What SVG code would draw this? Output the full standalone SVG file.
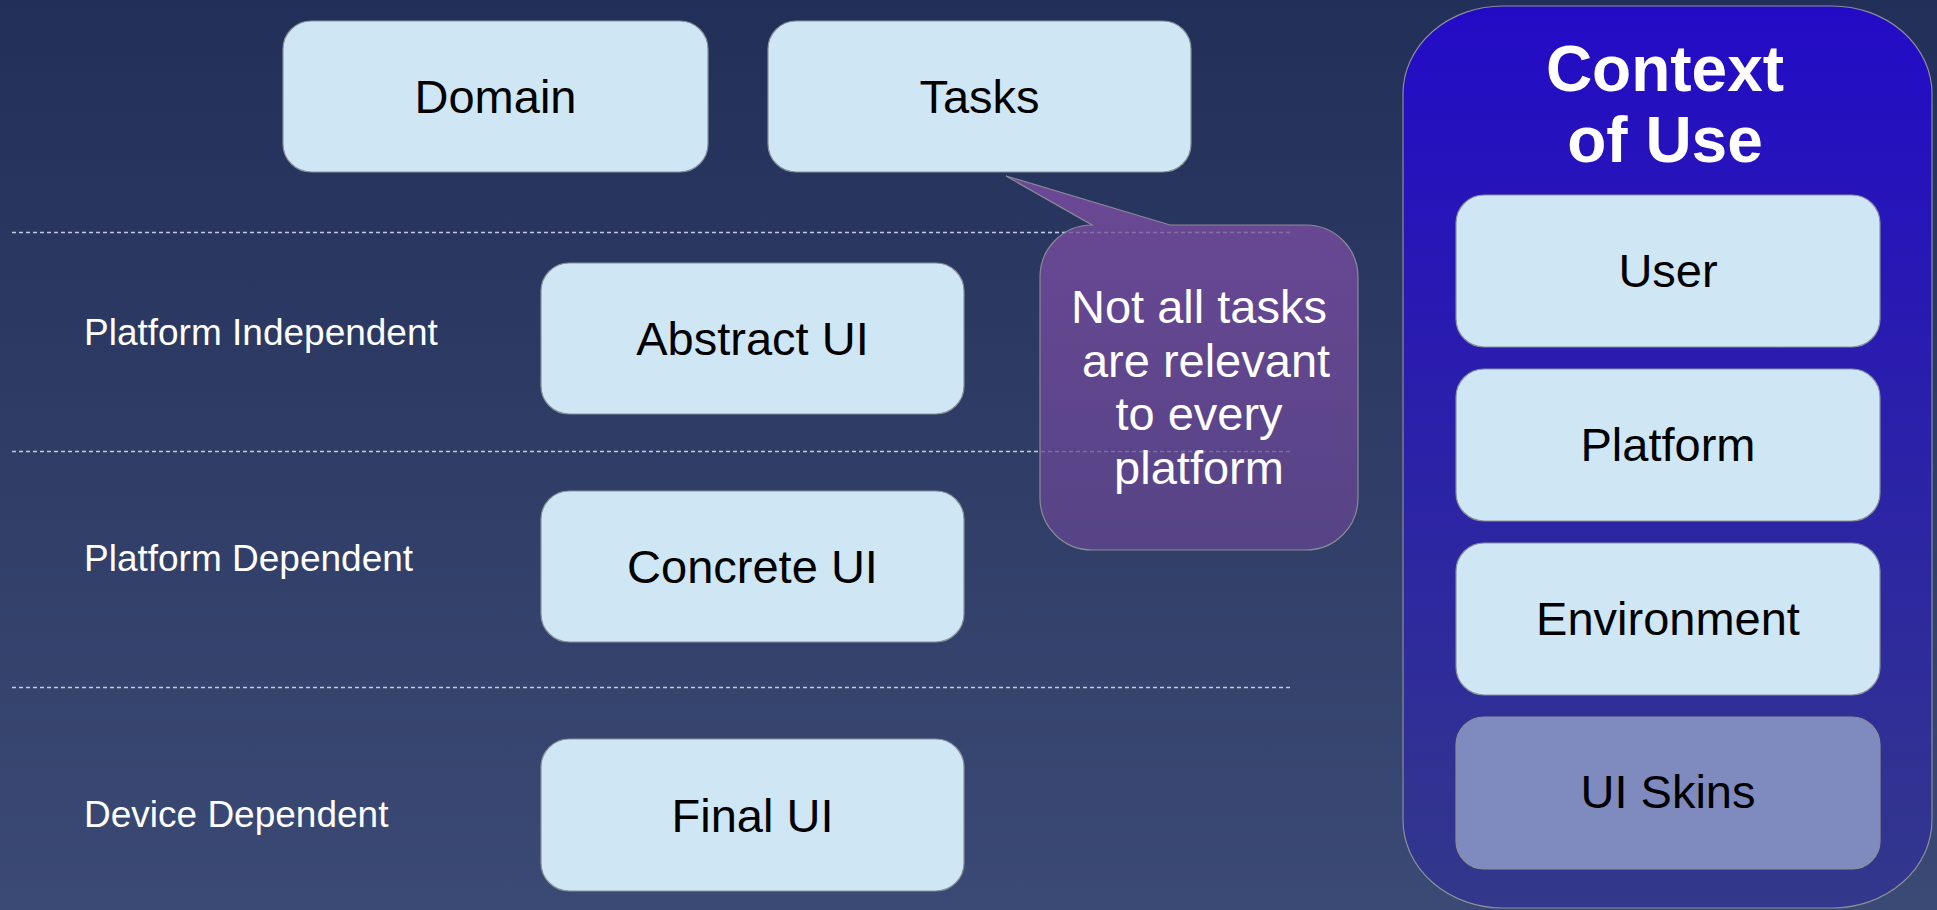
<svg xmlns="http://www.w3.org/2000/svg" width="1937" height="910" viewBox="0 0 1937 910">
<defs>
<linearGradient id="bg" x1="0" y1="0" x2="0" y2="1">
<stop offset="0" stop-color="#222f59"/>
<stop offset="1" stop-color="#3b4a74"/>
</linearGradient>
<linearGradient id="ctx" x1="0" y1="0" x2="0" y2="1">
<stop offset="0" stop-color="#230bc6"/>
<stop offset="1" stop-color="#33388a"/>
</linearGradient>
<linearGradient id="call" x1="0" y1="0" x2="0" y2="1">
<stop offset="0" stop-color="#6b4895"/>
<stop offset="1" stop-color="#564486"/>
</linearGradient>
<style>
.box{fill:#cfe6f4;stroke:#8a8f99;stroke-width:1.2}
.skin{fill:#7f8abf;stroke:#8a8f99;stroke-width:1.2}
.bt{font-family:"Liberation Sans",Arial,sans-serif;font-size:47px;fill:#000;text-anchor:middle}
.lab{font-family:"Liberation Sans",Arial,sans-serif;font-size:37px;fill:#fff}
.sep{stroke:#c4cbe0;stroke-width:1.3;stroke-dasharray:4 3;fill:none}
.ct{font-family:"Liberation Sans",Arial,sans-serif;font-size:47px;fill:#fff;text-anchor:middle}
.ttl{font-family:"Liberation Sans",Arial,sans-serif;font-size:64px;font-weight:bold;fill:#fff;text-anchor:middle}
</style>
</defs>
<rect x="0" y="0" width="1937" height="910" fill="url(#bg)"/>
<g id="separators">
<path class="sep" d="M12,232.5 H1293 M12,451.5 H1293 M12,687.5 H1293"/>
</g>
<g id="labels">
<text class="lab" x="84" y="345">Platform Independent</text>
<text class="lab" x="84" y="571">Platform Dependent</text>
<text class="lab" x="84" y="827">Device Dependent</text>
</g>
<g id="domain">
<rect class="box" x="283" y="21" width="425" height="151" rx="28" ry="28"/>
<text class="bt" x="495.5" y="113">Domain</text>
</g>
<g id="tasks">
<rect class="box" x="768" y="21" width="423" height="151" rx="28" ry="28"/>
<text class="bt" x="979.5" y="113">Tasks</text>
</g>
<g id="abstract-ui">
<rect class="box" x="541" y="263" width="423" height="151" rx="28" ry="28"/>
<text class="bt" x="752.5" y="355">Abstract UI</text>
</g>
<g id="concrete-ui">
<rect class="box" x="541" y="491" width="423" height="151" rx="28" ry="28"/>
<text class="bt" x="752.5" y="583">Concrete UI</text>
</g>
<g id="final-ui">
<rect class="box" x="541" y="739" width="423" height="152" rx="28" ry="28"/>
<text class="bt" x="752.5" y="832">Final UI</text>
</g>
<g id="callout">
<path d="M1006,176 L1170,225 H1306 A52,52 0 0 1 1358,277 V498 A52,52 0 0 1 1306,550 H1092 A52,52 0 0 1 1040,498 V277 A52,52 0 0 1 1092,225 Z" fill="url(#call)" stroke="#8a8a96" stroke-width="1.2"/>
<path class="sep" d="M1041,232.5 H1293 M1041,451.5 H1293" stroke-opacity="0.3"/>
<text class="ct" x="1199" y="323">Not all tasks</text>
<text class="ct" x="1206" y="377">are relevant</text>
<text class="ct" x="1199" y="430">to every</text>
<text class="ct" x="1199" y="484">platform</text>
</g>
<g id="context-of-use">
<rect x="1403" y="6" width="529" height="902" rx="100" ry="88" fill="url(#ctx)" stroke="#8a8f99" stroke-width="1.2"/>
<text class="ttl" x="1665" y="91">Context</text>
<text class="ttl" x="1665" y="162">of Use</text>
</g>
<g id="user">
<rect class="box" x="1456" y="195" width="424" height="152" rx="28" ry="28"/>
<text class="bt" x="1668" y="287">User</text>
</g>
<g id="platform">
<rect class="box" x="1456" y="369" width="424" height="152" rx="28" ry="28"/>
<text class="bt" x="1668" y="461">Platform</text>
</g>
<g id="environment">
<rect class="box" x="1456" y="543" width="424" height="152" rx="28" ry="28"/>
<text class="bt" x="1668" y="635">Environment</text>
</g>
<g id="ui-skins">
<rect class="skin" x="1456" y="717" width="424" height="152" rx="28" ry="28"/>
<text class="bt" x="1668" y="808">UI Skins</text>
</g>
</svg>
